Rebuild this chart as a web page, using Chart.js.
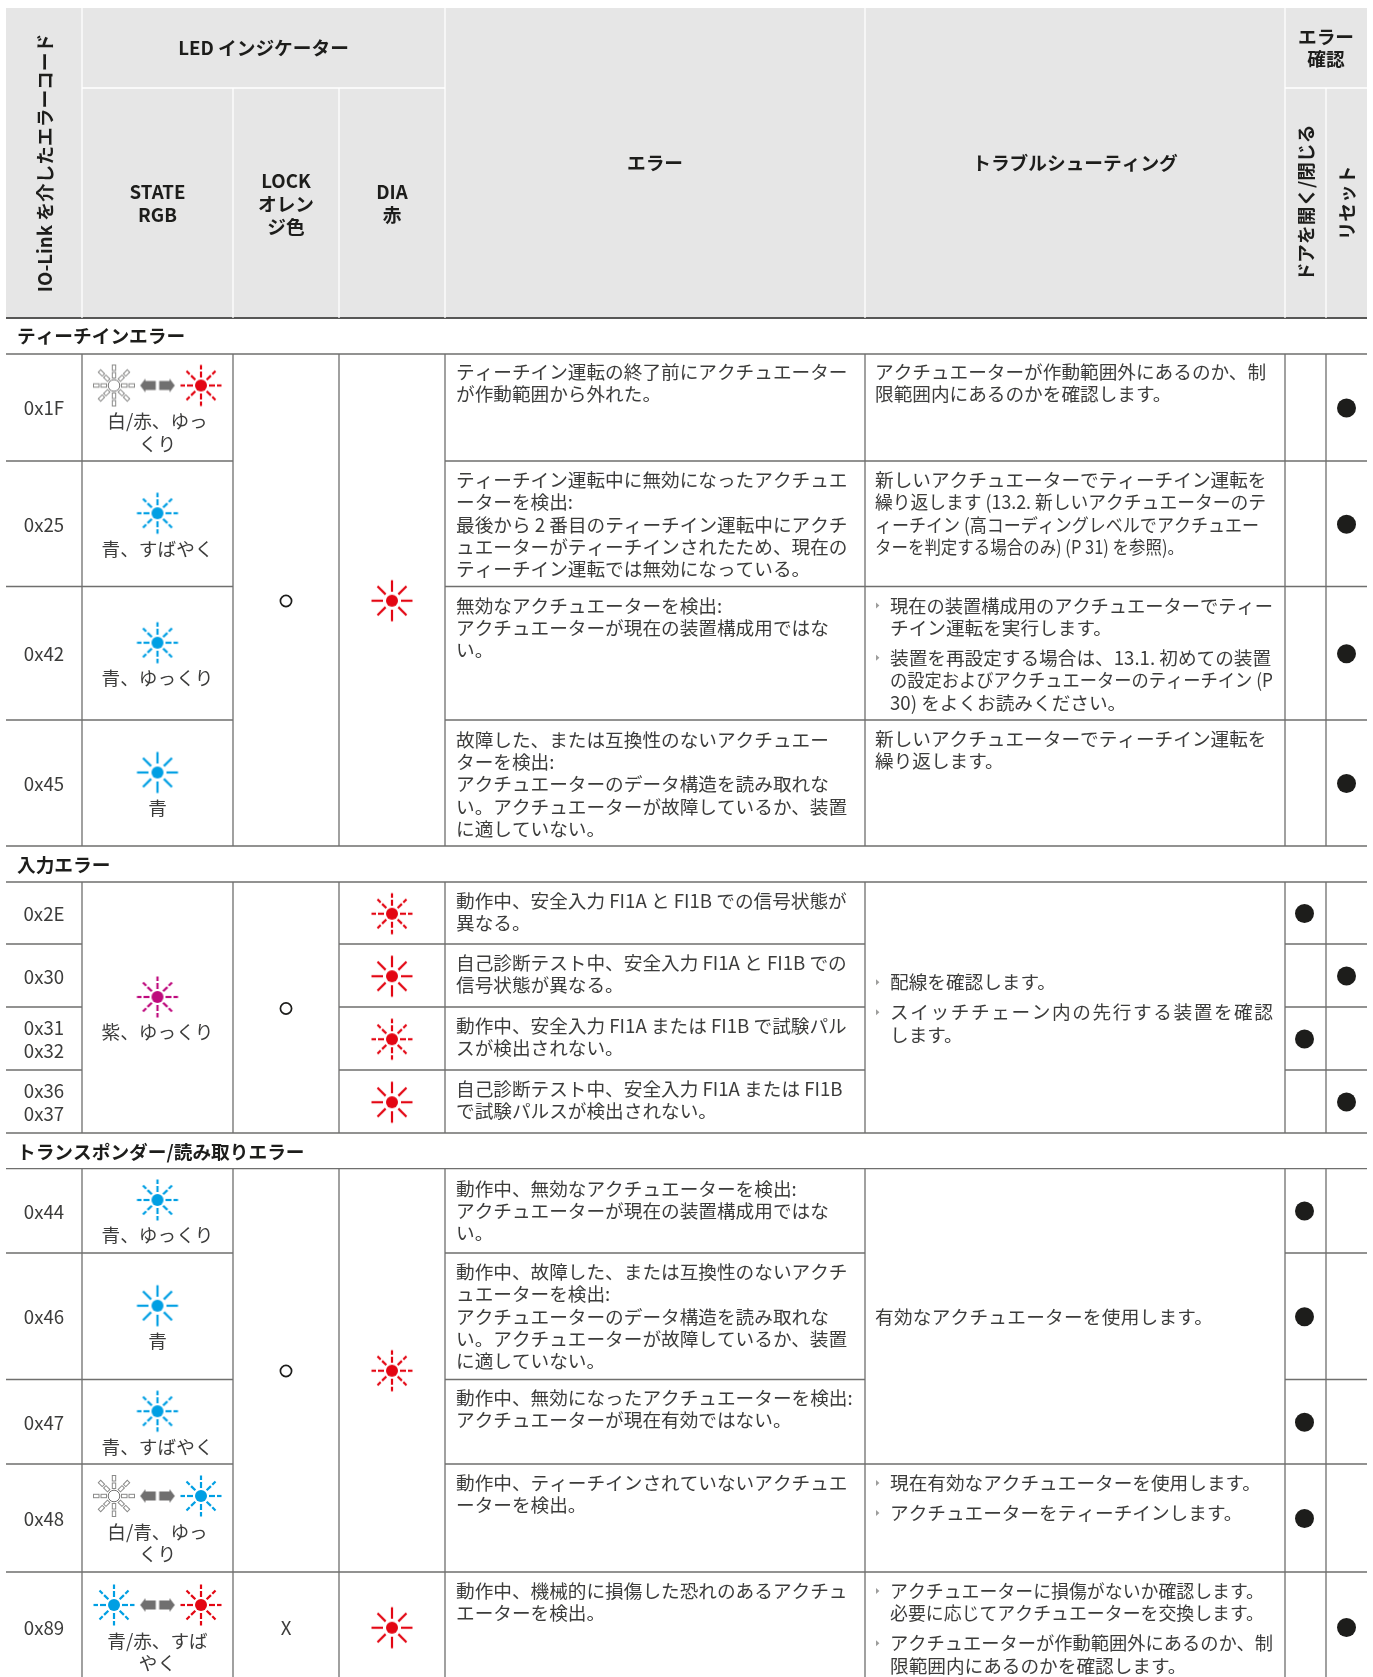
<!DOCTYPE html>
<html lang="ja">
<head>
<meta charset="utf-8">
<title>IO-Link エラーコード</title>
<script src="https://cdn.jsdelivr.net/npm/chart.js@4"></script>
<style>html,body{margin:0;padding:0;background:#fff}canvas{display:block}</style>
</head>
<body>
<canvas id="c" width="1373" height="1677"></canvas>
<script>
// ---------- content ----------
const rowCodes = [['0x1F'],['0x25'],['0x42'],['0x45'],['0x2E'],['0x30'],['0x31','0x32'],['0x36','0x37'],['0x44'],['0x46'],['0x47'],['0x48'],['0x89']];
const sectionTitles = ['ティーチインエラー','入力エラー','トランスポンダー/読み取りエラー'];
const stateSpans = [[0,0],[1,1],[2,2],[3,3],[4,7],[8,8],[9,9],[10,10],[11,11],[12,12]];
const stateLeds = [['white','red'],['blue'],['blue'],['blueSolid'],['purple'],['blue'],['blueSolid'],['blue'],['white','blue'],['blue','red']];
const stateLabels = [['白/赤、ゆっ','くり'],['青、すばやく'],['青、ゆっくり'],['青'],['紫、ゆっくり'],['青、ゆっくり'],['青'],['青、すばやく'],['白/青、ゆっ','くり'],['青/赤、すば','やく']];
const lockSpans = [[0,3],[4,7],[8,11],[12,12]];
const lockMarks = ['o','o','o','X'];
const diaSpans = [[0,3],[4,4],[5,5],[6,6],[7,7],[8,11],[12,12]];
const diaLeds = ['redSolid','red','redSolid','red','redSolid','red','redSolid'];
const errorTexts = [
 ['ティーチイン運転の終了前にアクチュエーター','が作動範囲から外れた。'],
 ['ティーチイン運転中に無効になったアクチュエ','ーターを検出:','最後から 2 番目のティーチイン運転中にアクチ','ュエーターがティーチインされたため、現在の','ティーチイン運転では無効になっている。'],
 ['無効なアクチュエーターを検出:','アクチュエーターが現在の装置構成用ではな','い。'],
 ['故障した、または互換性のないアクチュエー','ターを検出:','アクチュエーターのデータ構造を読み取れな','い。アクチュエーターが故障しているか、装置','に適していない。'],
 ['動作中、安全入力 FI1A と FI1B での信号状態が','異なる。'],
 ['自己診断テスト中、安全入力 FI1A と FI1B での','信号状態が異なる。'],
 ['動作中、安全入力 FI1A または FI1B で試験パル','スが検出されない。'],
 ['自己診断テスト中、安全入力 FI1A または FI1B','で試験パルスが検出されない。'],
 ['動作中、無効なアクチュエーターを検出:','アクチュエーターが現在の装置構成用ではな','い。'],
 ['動作中、故障した、または互換性のないアクチ','ュエーターを検出:','アクチュエーターのデータ構造を読み取れな','い。アクチュエーターが故障しているか、装置','に適していない。'],
 ['動作中、無効になったアクチュエーターを検出:','アクチュエーターが現在有効ではない。'],
 ['動作中、ティーチインされていないアクチュエ','ーターを検出。'],
 ['動作中、機械的に損傷した恐れのあるアクチュ','エーターを検出。']
];
const troubleSpans = [[0,0],[1,1],[2,2],[3,3],[4,7],[8,10],[11,11],[12,12]];
const troubleCentered = [false,false,false,false,true,true,false,false];
const troubleBulleted = [false,false,true,false,true,false,true,true];
const troubleTexts = [
 [['アクチュエーターが作動範囲外にあるのか、制','限範囲内にあるのかを確認します。']],
 [['新しいアクチュエーターでティーチイン運転を','繰り返します (13.2. 新しいアクチュエーターのテ','ィーチイン (高コーディングレベルでアクチュエー','ターを判定する場合のみ) (P 31) を参照)。']],
 [['現在の装置構成用のアクチュエーターでティー','チイン運転を実行します。'],['装置を再設定する場合は、13.1. 初めての装置','の設定およびアクチュエーターのティーチイン (P','30) をよくお読みください。']],
 [['新しいアクチュエーターでティーチイン運転を','繰り返します。']],
 [['配線を確認します。'],['スイッチチェーン内の先行する装置を確認','します。']],
 [['有効なアクチュエーターを使用します。']],
 [['現在有効なアクチュエーターを使用します。'],['アクチュエーターをティーチインします。']],
 [['アクチュエーターに損傷がないか確認します。','必要に応じてアクチュエーターを交換します。'],['アクチュエーターが作動範囲外にあるのか、制','限範囲内にあるのかを確認します。']]
];
const confirmColumn = ['R','R','R','R','D','R','D','R','D','D','D','D','R'];

// ---------- layout of the table on the linear axes ----------
const colEdges = [6,82,233,339,445,865,1285,1326,1367];
const rowTops = [354,461,586.5,720,882,944,1007,1070,1168,1253,1379.5,1464,1572];
const rowBottoms = [461,586.5,720,846,944,1007,1070,1133,1253,1379.5,1464,1572,1682];
const sectionBands = [[318,354],[846.5,882.5],[1134,1169]];
const errorOffsets = [18,19,19,19.5,19,18.5,19,19,20.5,19,18.5,19,19];
const headTop = 8, headSplit = 88, headBottom = 318;
const lineH = 22.35, fontSize = 18.65, headSize = 18.7;
const FONT = '"Noto Sans CJK JP","Noto Sans",sans-serif';
const INK = '#3c3c3b', DARK = '#1d1d1b';
const colMid = i => (colEdges[i] + colEdges[i+1]) / 2;
const spanMid = s => (rowTops[s[0]] + rowBottoms[s[1]]) / 2;
// widths of the troubleshooting lines that the reference set tight or loose
const fitWidths = {
 '1|繰り返します (13.2. 新しいアクチュエーターのテ':391,
 '1|ィーチイン (高コーディングレベルでアクチュエー':384,
 '1|ターを判定する場合のみ) (P 31) を参照)。':309,
 '2|現在の装置構成用のアクチュエーターでティー':383,
 '2|の設定およびアクチュエーターのティーチイン (P':383,
 '4|スイッチチェーン内の先行する装置を確認':383,
 '5|有効なアクチュエーターを使用します。':338,
 '7|アクチュエーターに損傷がないか確認します。':374,
 '7|必要に応じてアクチュエーターを交換します。':374,
 '7|アクチュエーターが作動範囲外にあるのか、制':383
};

// ---------- icons used as Chart.js point styles ----------
function iconCanvas(draw){
  const c = document.createElement('canvas'); c.width = 48; c.height = 48;
  const g = c.getContext('2d'); g.translate(24,24); draw(g); return c;
}
function ledIcon(color, solid){
  return iconCanvas(g => {
    g.strokeStyle = color; g.fillStyle = color; g.lineWidth = 2.2;
    for (let a = 0; a < 8; a++){
      g.save(); g.rotate(a * Math.PI / 4);
      const parts = solid ? [[9,20.5]] : [[8,14],[16,20.5]];
      parts.forEach(p => { g.beginPath(); g.moveTo(p[0],0); g.lineTo(p[1],0); g.stroke(); });
      g.restore();
    }
    g.beginPath(); g.arc(0,0,6,0,7); g.fill();
  });
}
function whiteIcon(){
  return iconCanvas(g => {
    g.strokeStyle = '#8a8a89'; g.lineWidth = 1;
    for (let a = 0; a < 8; a++){
      g.save(); g.rotate(a * Math.PI / 4);
      [[7.5,5.5],[15,5.5]].forEach(p => g.strokeRect(p[0],-1.7,p[1],3.4));
      g.restore();
    }
    g.strokeStyle = '#706f6f'; g.beginPath(); g.arc(0,0,5.8,0,7); g.stroke();
  });
}
function arrowIcon(){
  return iconCanvas(g => {
    g.fillStyle = '#706f6f';
    g.beginPath();
    g.moveTo(-17.3,0); g.lineTo(-12,-7); g.lineTo(-12,-4.5); g.lineTo(-1.7,-4.5); g.lineTo(-1.7,4.5); g.lineTo(-12,4.5); g.lineTo(-12,7); g.closePath();
    g.moveTo(17.3,0); g.lineTo(12,-7); g.lineTo(12,-4.5); g.lineTo(1.7,-4.5); g.lineTo(1.7,4.5); g.lineTo(12,4.5); g.lineTo(12,7); g.closePath();
    g.fill();
  });
}
const ledStyles = {
  white: whiteIcon(),
  red: ledIcon('#e30613',false), redSolid: ledIcon('#e30613',true),
  blue: ledIcon('#009fe3',false), blueSolid: ledIcon('#009fe3',true),
  purple: ledIcon('#be0a7d',false)
};

// ---------- points ----------
const iconPts = {}; Object.keys(ledStyles).forEach(k => iconPts[k] = []);
const arrowPts = [];
stateSpans.forEach((s,i) => {
  const y = spanMid(s) - 10.5 - (stateLabels[i].length - 1) * 11.5;
  const leds = stateLeds[i];
  if (leds.length === 1) iconPts[leds[0]].push({x:colMid(1), y});
  else {
    iconPts[leds[0]].push({x:colMid(1)-43.5, y});
    arrowPts.push({x:colMid(1), y});
    iconPts[leds[1]].push({x:colMid(1)+43.5, y});
  }
});
diaSpans.forEach((s,i) => iconPts[diaLeds[i]].push({x:colMid(3), y:spanMid(s)+0.7}));
const confirmPts = confirmColumn.map((c,i) => ({x:c === 'D' ? colMid(6)-1 : colMid(7), y:spanMid([i,i])+0.5}));
const lockPts = lockSpans.map((s,i) => lockMarks[i] === 'o' ? {x:colMid(2), y:spanMid(s)+1} : null).filter(Boolean);

// ---------- grid lines ----------
function segs(list){ const d = []; list.forEach(s => { d.push({x:s[0],y:s[1]},{x:s[2],y:s[3]},{x:NaN,y:NaN}); }); return d; }
const E = colEdges, R = E[8], L = E[0];
const whiteLines = [[E[1],headTop,E[1],headBottom],[E[2],headSplit,E[2],headBottom],[E[3],headSplit,E[3],headBottom],[E[4],headTop,E[4],headBottom],[E[5],headTop,E[5],headBottom],[E[6],headTop,E[6],headBottom],[E[7],headSplit,E[7],headBottom],[E[1],headSplit,E[4],headSplit],[E[6],headSplit,R,headSplit]];
const gridLines = [];
[[354,846],[882,1133],[1168.7,1677]].forEach(b => { for (let i = 1; i <= 7; i++) gridLines.push([E[i],b[0],E[i],b[1]]); });
[846,882,1133,1168.7,1572].forEach(y => gridLines.push([L,y,R,y]));
gridLines.push([L,354,R,354]);
[461,586.5,720].forEach(y => gridLines.push([L,y,E[2],y],[E[4],y,R,y]));
[944,1007,1070].forEach(y => gridLines.push([L,y,E[1],y],[E[3],y,E[5],y],[E[6],y,R,y]));
[1253,1379.5].forEach(y => gridLines.push([L,y,E[2],y],[E[4],y,E[5],y],[E[6],y,R,y]));
gridLines.push([L,1464,E[2],1464],[E[4],1464,R,1464]);

const lineDs = (lines,color,w) => ({type:'scatter',data:segs(lines),showLine:true,borderColor:color,borderWidth:w,pointRadius:0,spanGaps:false});
const ptDs = (data,style) => ({type:'scatter',data,pointStyle:style,pointRadius:10,pointBorderWidth:0});

// ---------- plugin: header fill and text ----------
const tablePlugin = {
  id:'table',
  beforeDatasetsDraw(chart){
    const {ctx,scales:{x,y}} = chart;
    ctx.save(); ctx.fillStyle = '#e6e6e6';
    ctx.fillRect(x.getPixelForValue(L),y.getPixelForValue(headTop),x.getPixelForValue(R)-x.getPixelForValue(L),y.getPixelForValue(headBottom)-y.getPixelForValue(headTop));
    ctx.restore();
  },
  afterDatasetsDraw(chart){
    const {ctx,scales:{x,y}} = chart;
    const put = (t,px,py,opt={}) => {
      ctx.save();
      ctx.font = (opt.bold?'700 ':'400 ') + (opt.bold?headSize:fontSize) + 'px ' + FONT;
      ctx.fillStyle = opt.bold ? DARK : INK;
      ctx.textBaseline = 'middle';
      ctx.textAlign = opt.align || 'left';
      ctx.translate(x.getPixelForValue(px), y.getPixelForValue(py));
      if (opt.rot) ctx.rotate(-Math.PI/2);
      if (opt.fit){
        const natural = ctx.measureText(t).width;
        if (opt.fit < natural) { ctx.fillText(t,0,0,opt.fit); ctx.restore(); return; }
        ctx.letterSpacing = ((opt.fit - natural) / ([...t].length - 1)).toFixed(3) + 'px';
      }
      ctx.fillText(t,0,0);
      ctx.restore();
    };
    const stack = (lines,px,py,opt,lh=lineH) => lines.forEach((t,i) => put(t,px,py+(i-(lines.length-1)/2)*lh,opt));
    const bc = {bold:true,align:'center'};
    // header
    put('IO-Link を介したエラーコード',colMid(0)+1,163,{bold:true,align:'center',rot:true});
    put('LED インジケーター',(E[1]+E[4])/2,48,bc);
    stack(['STATE','RGB'],colMid(1),203.5,bc,22.8);
    stack(['LOCK','オレン','ジ色'],colMid(2),204,bc,22.8);
    stack(['DIA','赤'],colMid(3),203.5,bc,22.8);
    put('エラー',colMid(4),163,bc);
    put('トラブルシューティング',colMid(5),163,bc);
    stack(['エラー','確認'],(E[6]+R)/2,48,bc);
    put('ドアを開く/閉じる',colMid(6),203,{bold:true,align:'center',rot:true});
    put('リセット',colMid(7),203,{bold:true,align:'center',rot:true});
    // sections
    sectionTitles.forEach((t,i) => put(t,17,(sectionBands[i][0]+sectionBands[i][1])/2,{bold:true}));
    // codes
    rowCodes.forEach((c,i) => stack(c,colMid(0),spanMid([i,i])+(i===0?0:1),{align:'center'}));
    // state labels
    stateSpans.forEach((s,i) => {
      const first = spanMid(s) + 24.8 - (stateLabels[i].length-1)*11;
      stateLabels[i].forEach((t,j) => put(t,colMid(1),first+j*lineH,{align:'center'}));
    });
    // lock X
    lockSpans.forEach((s,i) => { if (lockMarks[i] !== 'o') put(lockMarks[i],colMid(2),spanMid(s)+1,{align:'center'}); });
    // error text
    errorTexts.forEach((lines,i) => lines.forEach((t,j) => put(t,E[4]+11,rowTops[i]+errorOffsets[i]+j*lineH)));
    // troubleshooting
    troubleTexts.forEach((blocks,i) => {
      const s = troubleSpans[i], gap = 30 - lineH;
      const n = blocks.reduce((a,b)=>a+b.length,0);
      const h = (n-1)*lineH + (blocks.length-1)*gap;
      let py = troubleCentered[i] ? spanMid(s)-h/2+1 : rowTops[s[0]]+(i===0?18:19);
      const bullets = troubleBulleted[i];
      blocks.forEach(b => {
        if (bullets){
          const bx = x.getPixelForValue(E[5]+11), by = y.getPixelForValue(py);
          ctx.save(); ctx.fillStyle = '#9d9d9c'; ctx.beginPath();
          ctx.moveTo(bx,by-3); ctx.lineTo(bx+3.4,by); ctx.lineTo(bx,by+3); ctx.closePath(); ctx.fill(); ctx.restore();
        }
        b.forEach(t => { put(t,E[5]+(bullets?25:10),py,{fit:fitWidths[i+'|'+t]}); py += lineH; });
        py += gap;
      });
    });
    // lock circles
    lockPts.forEach(p => {
      ctx.save(); ctx.strokeStyle = DARK; ctx.lineWidth = 1.7; ctx.beginPath();
      ctx.arc(x.getPixelForValue(p.x),y.getPixelForValue(p.y),5.6,0,7); ctx.stroke(); ctx.restore();
    });
  }
};

const datasets = [
  lineDs(whiteLines,'#ffffff',1.3),
  lineDs(gridLines,'#6f6f6e',1.3),
  lineDs([[L,headBottom,R,headBottom]],'#575756',1.8),
  {type:'scatter',data:confirmPts,pointStyle:'circle',pointRadius:9.5,pointBackgroundColor:DARK,pointBorderWidth:0},
  ptDs(arrowPts,arrowIcon())
];
Object.keys(ledStyles).forEach(k => datasets.push(ptDs(iconPts[k],ledStyles[k])));

new Chart(document.getElementById('c'),{
  type:'scatter',
  data:{datasets},
  plugins:[tablePlugin],
  options:{
    responsive:false,animation:false,events:[],
    layout:{padding:0,autoPadding:false},
    plugins:{legend:{display:false},tooltip:{enabled:false},title:{display:false}},
    scales:{
      x:{type:'linear',min:0,max:1373,display:false},
      y:{type:'linear',min:0,max:1677,reverse:true,display:false}
    }
  }
});
</script>
</body>
</html>
